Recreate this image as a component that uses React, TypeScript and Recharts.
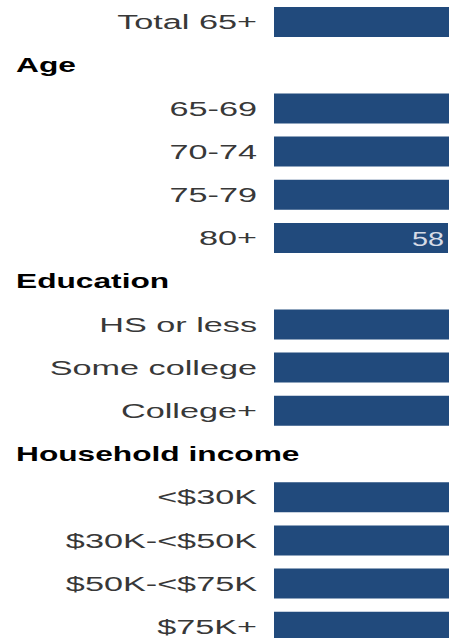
import { BarChart, Bar, XAxis, YAxis, LabelList } from "recharts";

const categories = [
  "Total 65+",
  "Age",
  "65-69",
  "70-74",
  "75-79",
  "80+",
  "Education",
  "HS or less",
  "Some college",
  "College+",
  "Household income",
  "<$30K",
  "$30K-<$50K",
  "$50K-<$75K",
  "$75K+",
];
const headers = ["Age", "Education", "Household income"];
const values = [78, null, 86, 82, 73, 58, null, 70, 81, 90, null, 72, 80, 86, 92];

const data = categories.map((name, i) => ({ name, value: values[i] }));

const FONT = "'Liberation Sans', Arial, sans-serif";

const CategoryTick = (props: any) => {
  const { x, y, payload } = props;
  const label = payload.value as string;
  if (headers.includes(label)) {
    return (
      <text
        transform={`translate(16, ${y}) scale(1.51, 1)`}
        dy="0.36em"
        textAnchor="start"
        fontFamily={FONT}
        fontSize={21}
        fontWeight="bold"
        fill="#000"
      >
        {label}
      </text>
    );
  }
  return (
    <text
      transform={`translate(${x}, ${y}) scale(1.63, 1)`}
      dy="0.36em"
      textAnchor="end"
      fontFamily={FONT}
      fontSize={21}
      fill="#383838"
    >
      {label}
    </text>
  );
};

const ValueLabel = (props: any) => {
  const { x, y, width, height, value } = props;
  if (value == null) return null;
  return (
    <text
      transform={`translate(${x + width - 4}, ${y + height / 2}) scale(1.37, 1)`}
      dy="0.36em"
      textAnchor="end"
      fontFamily={FONT}
      fontSize={21}
      fill="#d6dbe6"
    >
      {value}
    </text>
  );
};

export default function App() {
  return (
    <div
      style={{
        position: "absolute",
        left: 0,
        top: 0,
        width: 449,
        height: 638,
        overflow: "hidden",
        background: "#fff",
      }}
    >
      <BarChart
        layout="vertical"
        width={600}
        height={648}
        data={data}
        margin={{ top: 0, right: 26, left: 0, bottom: 0 }}
      >
        <XAxis type="number" domain={[0, 100]} hide />
        <YAxis
          type="category"
          dataKey="name"
          width={274}
          axisLine={false}
          tickLine={false}
          tickSize={0}
          tickMargin={17}
          interval={0}
          tick={<CategoryTick />}
        />
        <Bar dataKey="value" fill="#214a7c" barSize={30} isAnimationActive={false}>
          <LabelList dataKey="value" content={<ValueLabel />} />
        </Bar>
      </BarChart>
    </div>
  );
}
